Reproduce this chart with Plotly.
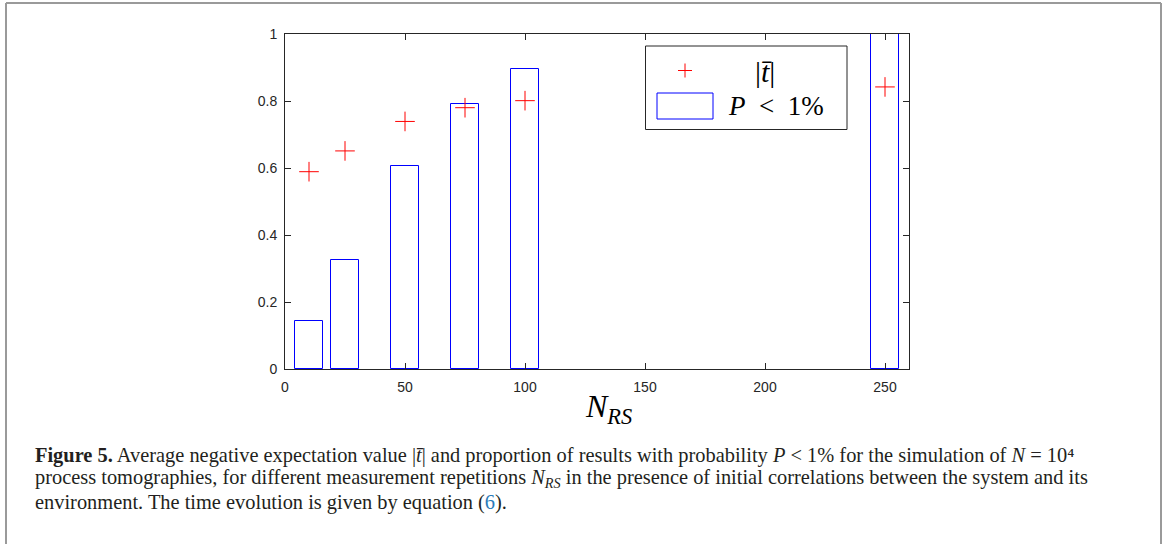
import plotly.graph_objects as go

# ---- data ----
n_rs = [10, 25, 50, 75, 100, 250]
t_bar = [0.589, 0.651, 0.739, 0.780, 0.801, 0.842]
p_below_1 = [0.144, 0.324, 0.607, 0.790, 0.8965, 1.0]
bar_width = 12
x_ticks = [0, 50, 100, 150, 200, 250]
y_ticks = [0, 0.2, 0.4, 0.6, 0.8, 1]
y_tick_text = ["0", "0.2", "0.4", "0.6", "0.8", "1"]

W, H = 1168, 544
L, R, T, B = 285, 259, 34, 175
pw = W - L - R
ph = H - T - B


def px(xpix):
    return (xpix - L) / pw


def py(ypix):
    return (H - B - ypix) / ph


AX = "#262626"
SERIF = "Liberation Serif"

fig = go.Figure()
fig.add_trace(go.Bar(
    x=n_rs, y=p_below_1, width=[bar_width] * len(n_rs),
    marker=dict(color="white", line=dict(color="#0000ff", width=1)),
    name="P < 1%", showlegend=False,
))
fig.add_trace(go.Scatter(
    x=n_rs, y=t_bar, mode="markers",
    marker=dict(symbol="cross-thin", size=14, line=dict(color="#ff0000", width=1)),
    name="|t|", showlegend=False, cliponaxis=False,
))

fig.update_layout(
    width=W, height=H,
    margin=dict(l=L, r=R, t=T, b=B, pad=0),
    paper_bgcolor="white", plot_bgcolor="white",
    font=dict(family="Liberation Sans", size=14, color=AX),
    bargap=0,
)
fig.update_xaxes(
    range=[0, 260], tickvals=x_ticks, ticktext=[str(v) for v in x_ticks],
    ticks="inside", ticklen=6, tickcolor=AX, tickwidth=1,
    showline=True, linecolor=AX, linewidth=1, mirror="ticks",
    showgrid=False, zeroline=False, tickfont=dict(family="Liberation Sans", size=14, color=AX),
    ticklabelstandoff=5,
)
fig.update_yaxes(
    range=[0, 1], tickvals=y_ticks, ticktext=y_tick_text,
    ticks="inside", ticklen=6, tickcolor=AX, tickwidth=1,
    showline=True, linecolor=AX, linewidth=1, mirror="ticks",
    showgrid=False, zeroline=False, tickfont=dict(family="Liberation Sans", size=14, color=AX),
    ticklabelstandoff=4,
)

shapes = []
# outer frame (gray, open at bottom)
fc = "#9a9a9a"
shapes.append(dict(type="line", xref="paper", yref="paper", x0=px(6), x1=px(6), y0=py(3), y1=py(560), line=dict(color=fc, width=2)))
shapes.append(dict(type="line", xref="paper", yref="paper", x0=px(6), x1=px(1161), y0=py(3), y1=py(3), line=dict(color=fc, width=2)))
shapes.append(dict(type="line", xref="paper", yref="paper", x0=px(1161), x1=px(1161), y0=py(3), y1=py(560), line=dict(color=fc, width=2)))
# legend box
shapes.append(dict(type="rect", xref="paper", yref="paper", x0=px(645.5), x1=px(847), y0=py(46), y1=py(129.5), line=dict(color=AX, width=1), fillcolor="white"))
# legend plus
shapes.append(dict(type="line", xref="paper", yref="paper", x0=px(678), x1=px(692), y0=py(70.5), y1=py(70.5), line=dict(color="#ff0000", width=1)))
shapes.append(dict(type="line", xref="paper", yref="paper", x0=px(685), x1=px(685), y0=py(63.5), y1=py(77.5), line=dict(color="#ff0000", width=1)))
# legend bar swatch
shapes.append(dict(type="rect", xref="paper", yref="paper", x0=px(657), x1=px(713), y0=py(93), y1=py(119), line=dict(color="#0000ff", width=1), fillcolor="white"))
fig.update_layout(shapes=shapes)

ann = []
ann.append(dict(text="|<i>t̄</i>|", xref="paper", yref="paper", x=px(765), y=py(71), xanchor="center", yanchor="middle", showarrow=False, font=dict(family=SERIF, size=30, color="black")))
ann.append(dict(text="<i>P</i>&nbsp;&nbsp;&lt;&nbsp;&nbsp;1%", xref="paper", yref="paper", x=px(726), y=py(106), xanchor="left", yanchor="middle", showarrow=False, font=dict(family=SERIF, size=27, color="black")))
ann.append(dict(text="<i>N</i><sub><i>RS</i></sub>", xref="paper", yref="paper", x=px(608), y=py(408), xanchor="center", yanchor="middle", showarrow=False, font=dict(family=SERIF, size=32, color="black")))

cap = [
    "<b>Figure 5.</b> Average negative expectation value |<i>t̄</i>| and proportion of results with probability <i>P</i> &lt; 1% for the simulation of <i>N</i> = 10⁴",
    "process tomographies, for different measurement repetitions <i>N</i><sub><i>RS</i></sub> in the presence of initial correlations between the system and its",
    "environment. The time evolution is given by equation (<span style='color:#2b7bb9'>6</span>).",
]
cap_y = [456, 478, 502]
for line, yy in zip(cap, cap_y):
    ann.append(dict(text=line, xref="paper", yref="paper", x=px(34), y=py(yy), xanchor="left", yanchor="middle",
                    showarrow=False, borderpad=0,
                    font=dict(family=SERIF, size=20.4, color="#231f20")))
fig.update_layout(annotations=ann)

fig.write_html("out.html")
